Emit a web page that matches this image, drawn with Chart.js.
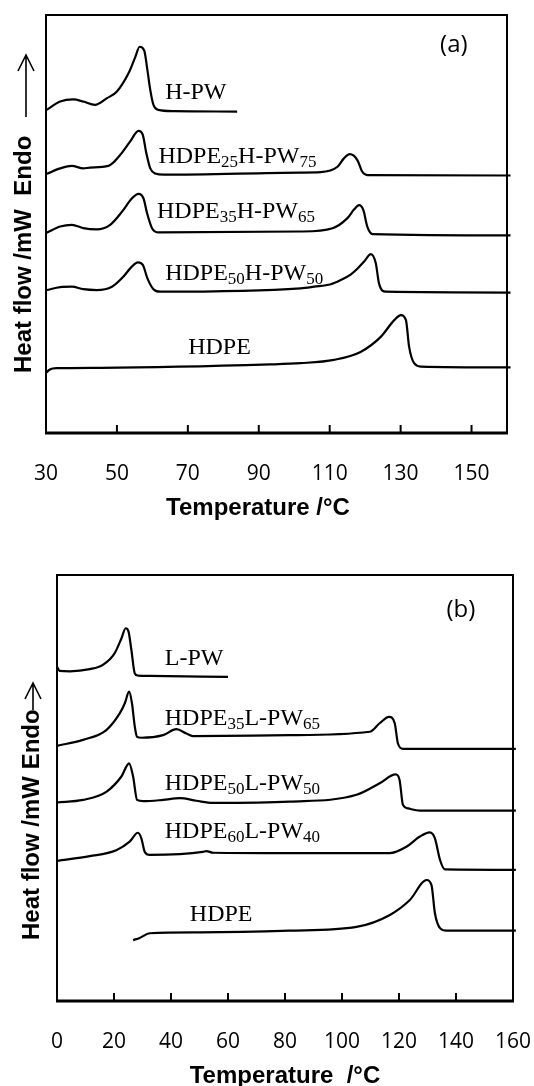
<!DOCTYPE html>
<html>
<head>
<meta charset="utf-8">
<script src="https://cdn.jsdelivr.net/npm/chart.js@4.4.1/dist/chart.umd.min.js"></script>
<style>
    html, body { margin: 0; padding: 0; background: #fff; overflow: hidden; width: 534px; height: 1086px; }
    canvas { position: absolute; left: 0; }
    #dsc-chart-a { top: 0; }
    #dsc-chart-b { top: 540px; }
</style>
</head>
<body>
<canvas id="dsc-chart-a" width="534" height="540"></canvas>
<canvas id="dsc-chart-b" width="534" height="560"></canvas>
<script>
/*
/----------------------------------------
/- data panel (a) : HDPE / H-PW blends
/----------------------------------------
*/
const ticksA = [30, 50, 70, 90, 110, 130, 150];

const tempHPW = [30.2, 34.0, 37.7, 40.5, 43.8, 47.2, 50.0, 53.3, 55.2, 56.4, 57.7, 58.6, 59.4, 60.3, 61.7, 66.0, 83.9];
const flowHPW = [77.3, 79.3, 79.8, 79.3, 78.5, 80.1, 81.7, 86.1, 90.0, 92.4, 91.5, 86.8, 82.1, 78.5, 77.3, 77.0, 76.9];

const tempH25 = [30.2, 34.0, 37.3, 40.5, 42.4, 47.6, 50.9, 53.7, 56.1, 57.3, 58.3, 59.4, 60.8, 63.2, 101.8, 107.4, 112.2, 114.0, 115.7, 117.8, 119.2, 120.6, 161];
const flowH25 = [62.0, 63.3, 63.9, 63.3, 63.5, 63.9, 66.5, 69.7, 72.3, 71.3, 66.9, 63.3, 62.1, 61.8, 62.3, 62.4, 63.7, 65.7, 66.7, 65.3, 62.5, 61.7, 61.6];

const tempH35 = [30.2, 34.0, 37.3, 40.5, 44.3, 48.1, 51.4, 54.2, 56.1, 57.5, 58.5, 59.9, 61.7, 101.8, 110.8, 115.0, 116.9, 118.3, 119.5, 120.6, 122.1, 161];
const flowH35 = [47.9, 49.4, 49.8, 49.0, 48.7, 49.8, 52.9, 56.1, 57.2, 56.1, 52.6, 49.0, 48.0, 48.2, 49.0, 51.4, 53.5, 54.5, 53.3, 49.4, 47.6, 47.3];

const tempH50 = [30.2, 34.0, 37.3, 40.5, 44.3, 48.6, 51.8, 54.2, 55.9, 57.3, 58.6, 60.3, 62.2, 101.8, 105.6, 110.3, 113.1, 115.9, 117.8, 119.7, 121.6, 123.0, 123.9, 125.8, 161];
const flowH50 = [34.2, 34.9, 35.0, 34.4, 34.2, 35.0, 37.4, 39.8, 40.8, 40.2, 37.0, 34.4, 33.8, 34.6, 35.0, 35.6, 36.6, 37.9, 39.3, 41.0, 42.8, 40.6, 35.8, 33.8, 33.6];

const tempHdpeA = [30.0, 31.1, 33.0, 45.3, 93.3, 101.8, 111.2, 118.7, 124.4, 128.2, 130.1, 131.5, 132.4, 133.8, 135.7, 161];
const flowHdpeA = [14.4, 15.2, 15.5, 15.6, 16.4, 16.7, 17.5, 19.4, 23.0, 27.0, 28.2, 27.0, 20.6, 16.7, 15.9, 15.7];

/*
/----------------------------------------
/- data panel (b) : HDPE / L-PW blends
/----------------------------------------
*/
const ticksB = [0, 20, 40, 60, 80, 100, 120, 140, 160];

const tempLPW = [0, 0.9, 4.5, 11.5, 16.1, 20.2, 22.6, 24.1, 25.1, 26.1, 27.3, 28.4, 32.5, 60];
const flowLPW = [78.5, 77.5, 77.4, 77.9, 78.9, 81.6, 85.1, 87.5, 86.7, 82.4, 76.9, 76.4, 76.3, 76.1];

const tempL35 = [0, 9.1, 17.3, 22.0, 23.8, 25.3, 26.3, 27.3, 28.1, 29.6, 37.2, 41.9, 45.4, 47.7, 81.6, 109.7, 113.2, 116.5, 118.5, 119.6, 121.4, 161];
const flowL35 = [59.9, 61.3, 63.6, 67.5, 69.9, 72.6, 69.9, 64.4, 62.0, 61.8, 62.4, 63.8, 62.8, 62.2, 62.4, 63.2, 65.2, 66.7, 65.2, 60.5, 59.2, 59.2];

const tempL50 = [0, 9.1, 17.3, 22.6, 25.3, 26.7, 28.1, 30.2, 37.2, 43.1, 48.9, 54.7, 81.6, 105.1, 113.2, 118.8, 120.2, 121.4, 123.2, 127.3, 161];
const flowL50 = [46.6, 47.2, 49.1, 52.7, 55.8, 52.7, 47.2, 46.9, 47.2, 47.6, 47.0, 46.5, 46.8, 48.4, 51.1, 53.2, 51.9, 46.0, 45.2, 44.7, 44.7];

const tempL60 = [0, 11.5, 20.8, 25.5, 28.4, 29.6, 30.8, 32.5, 51.2, 52.4, 54.7, 81.6, 116.7, 122.6, 127.3, 130.8, 132.6, 134.4, 136.1, 161];
const flowL60 = [32.9, 34.0, 35.4, 37.4, 39.5, 38.2, 35.0, 34.3, 35.0, 35.2, 34.8, 34.7, 34.7, 36.2, 38.6, 39.6, 38.2, 33.1, 30.9, 30.8];

const tempHdpeB = [26.7, 29.0, 32.5, 50, 81.6, 105.1, 116.8, 123.8, 129.7, 131.4, 132.6, 134.4, 136.7, 161];
const flowHdpeB = [14.3, 14.8, 15.9, 16.1, 16.5, 17.4, 20.2, 23.7, 28.4, 27.2, 20.6, 17.1, 16.5, 16.5];

// curve names, odd parts are subscripts
const namesA = [
    ["H-PW"],
    ["HDPE", "25", "H-PW", "75"],
    ["HDPE", "35", "H-PW", "65"],
    ["HDPE", "50", "H-PW", "50"],
    ["HDPE"],
];
const namesB = [
    ["L-PW"],
    ["HDPE", "35", "L-PW", "65"],
    ["HDPE", "50", "L-PW", "50"],
    ["HDPE", "60", "L-PW", "40"],
    ["HDPE"],
];

// helper
function toPoints(xs, ys) {
    return xs.map((v, i) => ({ x: v, y: ys[i] }));
}

function curve(xs, ys) {
    return {
        data: toPoints(xs, ys),
        borderColor: "#000",
        borderWidth: 2.2,
        pointRadius: 0,
        fill: false,
        cubicInterpolationMode: "monotone",
        clip: false,
    };
}

/*
/----------------------------------------
/- plugins : frame + inner ticks, curve names, axis titles
/----------------------------------------
*/
const frameTicks = {
    id: "frameTicks",
    afterDatasetsDraw(chart) {
        const { ctx, chartArea: a, scales: { x } } = chart;
        ctx.save();
        ctx.strokeStyle = "#000";
        ctx.lineWidth = 2;
        ctx.strokeRect(a.left, a.top, a.right - a.left, a.bottom - a.top);
        ctx.lineWidth = 3;
        ctx.beginPath();
        ctx.moveTo(a.left - 1, a.bottom);
        ctx.lineTo(a.right + 1, a.bottom);
        ctx.stroke();
        ctx.lineWidth = 2;
        x.ticks.forEach((t) => {
            const px = x.getPixelForValue(t.value);
            ctx.beginPath();
            ctx.moveTo(px, a.bottom);
            ctx.lineTo(px, a.bottom - 8);
            ctx.stroke();
        });
        ctx.restore();
    },
};

const curveNames = {
    id: "curveNames",
    afterDraw(chart, args, opts) {
        const { ctx, scales: { x, y } } = chart;
        ctx.save();
        ctx.fillStyle = "#000";
        ctx.textBaseline = "alphabetic";
        ctx.textAlign = "left";
        opts.names.forEach((parts, k) => {
            let px = x.getPixelForValue(opts.at[k][0]);
            const base = y.getPixelForValue(opts.at[k][1]) + 8;
            parts.forEach((part, i) => {
                const sub = i % 2 === 1;
                ctx.font = (sub ? 17 : 24) + 'px "Liberation Serif"';
                ctx.fillText(part, px, sub ? base + 4 : base);
                px += ctx.measureText(part).width;
            });
        });
        // panel letter
        ctx.font = '24px "Open Sans"';
        ctx.textAlign = "center";
        ctx.textBaseline = "middle";
        ctx.fillText(opts.letter.text, x.getPixelForValue(opts.letter.at[0]), y.getPixelForValue(opts.letter.at[1]));
        ctx.restore();
    },
};

const axisTitles = {
    id: "axisTitles",
    afterDraw(chart, args, opts) {
        const ctx = chart.ctx;
        ctx.save();
        ctx.fillStyle = "#000";
        ctx.font = 'bold 24px "Liberation Sans"';
        // x title
        ctx.textAlign = "center";
        ctx.textBaseline = "middle";
        ctx.fillText(opts.xText, opts.xPos[0], opts.xPos[1]);
        // y title, rotated
        ctx.translate(opts.yBase, opts.yStart);
        ctx.rotate(-Math.PI / 2);
        ctx.textAlign = "left";
        ctx.textBaseline = "alphabetic";
        ctx.fillText(opts.yText, 0, 0);
        ctx.restore();
        // arrow
        ctx.save();
        ctx.strokeStyle = "#000";
        ctx.lineWidth = 1.6;
        const ax = opts.arrow[0];
        ctx.beginPath();
        ctx.moveTo(ax, opts.arrow[1]);
        ctx.lineTo(ax, opts.arrow[2]);
        ctx.moveTo(ax - 8, opts.arrow[2] + 16);
        ctx.lineTo(ax, opts.arrow[2]);
        ctx.lineTo(ax + 8, opts.arrow[2] + 16);
        ctx.stroke();
        ctx.restore();
    },
};

// shared x axis look
function xAxis(min, max, tickList) {
    return {
        type: "linear",
        min: min,
        max: max,
        afterBuildTicks: (scale) => {
            scale.ticks = tickList.map((v) => ({ value: v }));
        },
        grid: {
            display: true,
            drawOnChartArea: false,
            drawTicks: true,
            tickLength: 28.4,
            tickColor: "rgba(0,0,0,0)",
        },
        border: {
            display: false,
        },
        ticks: {
            padding: 0,
            color: "#000",
            maxRotation: 0,
            autoSkip: false,
            font: { family: "Open Sans", size: 21 },
        },
    };
}

/*
/----------------------------------------
/- chart (a)
/- id canvas = dsc-chart-a
/----------------------------------------
*/
const configA = {
    type: "line",
    data: {
        datasets: [
            curve(tempHPW, flowHPW),
            curve(tempH25, flowH25),
            curve(tempH35, flowH35),
            curve(tempH50, flowH50),
            curve(tempHdpeA, flowHdpeA),
        ],
    },
    options: {
        responsive: false,
        animation: false,
        layout: {
            padding: { left: 46, right: 27, top: 15, bottom: 53.4 },
        },
        plugins: {
            legend: { display: false },
            tooltip: { enabled: false },
            curveNames: {
                names: namesA,
                at: [[63.6, 81.7], [61.7, 66.5], [61.3, 53.3], [63.6, 38.6], [70.1, 20.8]],
                letter: { text: "(a)", at: [145.0, 92.8] },
            },
            axisTitles: {
                xText: "Temperature /°C",
                xPos: [258, 508],
                yText: "Heat flow /mW  Endo",
                yBase: 31,
                yStart: 373,
                arrow: [26, 117, 55],
            },
        },
        scales: {
            x: xAxis(30, 160, ticksA),
            y: { display: false, min: 0, max: 100 },
        },
    },
    plugins: [frameTicks, curveNames, axisTitles],
};

new Chart(document.getElementById("dsc-chart-a"), configA);

/*
/----------------------------------------
/- chart (b)
/- id canvas = dsc-chart-b
/----------------------------------------
*/
const configB = {
    type: "line",
    data: {
        datasets: [
            curve(tempLPW, flowLPW),
            curve(tempL35, flowL35),
            curve(tempL50, flowL50),
            curve(tempL60, flowL60),
            curve(tempHdpeB, flowHdpeB),
        ],
    },
    options: {
        responsive: false,
        animation: false,
        layout: {
            padding: { left: 57, right: 21, top: 35, bottom: 45.4 },
        },
        plugins: {
            legend: { display: false },
            tooltip: { enabled: false },
            curveNames: {
                names: namesB,
                at: [[37.8, 80.8], [37.8, 66.7], [37.8, 51.5], [37.8, 40.1], [46.6, 20.6]],
                letter: { text: "(b)", at: [141.7, 91.8] },
            },
            axisTitles: {
                xText: "Temperature  /°C",
                xPos: [285, 536.5],
                yText: "Heat flow /mW Endo",
                yBase: 39,
                yStart: 400,
                arrow: [33, 170, 143],
            },
        },
        scales: {
            x: xAxis(0, 160, ticksB),
            y: { display: false, min: 0, max: 100 },
        },
    },
    plugins: [frameTicks, curveNames, axisTitles],
};

new Chart(document.getElementById("dsc-chart-b"), configB);
</script>
</body>
</html>
